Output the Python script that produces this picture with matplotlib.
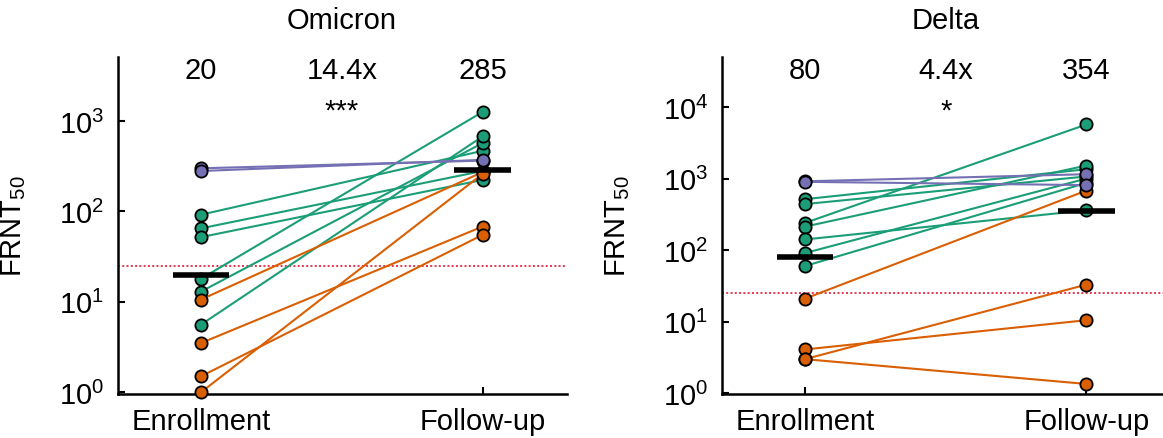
import matplotlib
matplotlib.use("Agg")
import matplotlib.pyplot as plt
import matplotlib.transforms as mtransforms
from matplotlib.ticker import LogLocator, NullLocator

plt.rcParams['font.family'] = ['Liberation Sans', 'DejaVu Sans']
plt.rcParams['mathtext.default'] = 'regular'

GREEN = '#1b9e77'
ORANGE = '#d95f02'
PURPLE = '#7570b3'

timepoints = ['Enrollment', 'Follow-up']

# Omicron panel
omi_purple_enr = [300, 280]
omi_purple_fu = [365, 372]
omi_green_enr = [92, 65, 52, 18, 13, 5.6]
omi_green_fu = [468, 280, 223, 1260, 570, 675]
omi_orange_enr = [10.6, 3.5, 1.5, 1.0]
omi_orange_fu = [272, 68, 55, 260]
omi_medians = [20, 285]
omi_fold = '14.4x'
omi_sig = '***'

# Delta panel
del_purple_enr = [915, 900]
del_purple_fu = [1150, 810]
del_green_enr = [515, 440, 240, 213, 141, 91, 60]
del_green_fu = [1350, 1070, 5700, 1520, 360, 1000, 870]
del_orange_enr = [21, 4.1, 3.0, 3.0]
del_orange_fu = [680, 10.5, 33, 1.35]
del_medians = [80, 354]
del_fold = '4.4x'
del_sig = '*'

threshold = 25


def draw_panel(ax, title, groups, medians, fold, sig, ylim):
    for enr, fu, color in groups:
        for a, b in zip(enr, fu):
            ax.plot([0, 1], [a, b], color=color, lw=1.5, zorder=2)
        ax.plot([0] * len(enr), enr, 'o', ms=8.8, mfc=color, mec='black',
                mew=1.3, zorder=3, clip_on=False)
        ax.plot([1] * len(fu), fu, 'o', ms=8.8, mfc=color, mec='black',
                mew=1.3, zorder=3, clip_on=False)
    # medians
    for x, m in zip([0, 1], medians):
        ax.plot([x - 0.1, x + 0.1], [m, m], color='black', lw=4,
                solid_capstyle='butt', zorder=4)
    ax.axhline(threshold, color='#e8344e', ls=(0, (1, 1.2)), lw=1.4, zorder=1)

    ax.set_yscale('log')
    ax.set_ylim(*ylim)
    ax.set_xlim(-0.295, 1.30)
    ax.set_xticks([0, 1])
    ax.set_xticklabels(timepoints, fontsize=21)
    ax.yaxis.set_major_locator(LogLocator(base=10, numticks=10))
    ax.yaxis.set_minor_locator(NullLocator())
    ax.tick_params(axis='y', direction='in', length=5, width=1.5,
                   labelsize=21, pad=10)
    ax.tick_params(axis='x', direction='in', length=5, width=1.5, pad=9)
    for s in ['top', 'right']:
        ax.spines[s].set_visible(False)
    for s in ['left', 'bottom']:
        ax.spines[s].set_linewidth(1.8)
    ax.set_ylabel('FRNT$_{50}$', fontsize=21)
    ax.yaxis.set_label_coords(-0.2, 0.5)

    trans = mtransforms.blended_transform_factory(ax.transData, ax.transAxes)
    ax.text(0.5, 1.108, title, transform=trans, ha='center', va='center',
            fontsize=21)
    ax.text(0, 0.961, f'{medians[0]}', transform=trans, ha='center',
            va='center', fontsize=21)
    ax.text(0.5, 0.961, fold, transform=trans, ha='center', va='center',
            fontsize=21)
    ax.text(1, 0.961, f'{medians[1]}', transform=trans, ha='center',
            va='center', fontsize=21)
    ax.text(0.5, 0.84, sig, transform=trans, ha='center', va='center',
            fontsize=21)


fig = plt.figure(figsize=(11.63, 4.39), dpi=100)
ax1 = fig.add_axes([0.1015, 0.1002, 0.386, 0.768])
ax2 = fig.add_axes([0.6208, 0.1002, 0.386, 0.768])

draw_panel(ax1, 'Omicron',
           [(omi_green_enr, omi_green_fu, GREEN),
            (omi_orange_enr, omi_orange_fu, ORANGE),
            (omi_purple_enr, omi_purple_fu, PURPLE)],
           omi_medians, omi_fold, omi_sig, (10 ** -0.02, 10 ** 3.71))
draw_panel(ax2, 'Delta',
           [(del_green_enr, del_green_fu, GREEN),
            (del_orange_enr, del_orange_fu, ORANGE),
            (del_purple_enr, del_purple_fu, PURPLE)],
           del_medians, del_fold, del_sig, (10 ** -0.01, 10 ** 4.70))

fig.savefig('out.png', dpi=100)
